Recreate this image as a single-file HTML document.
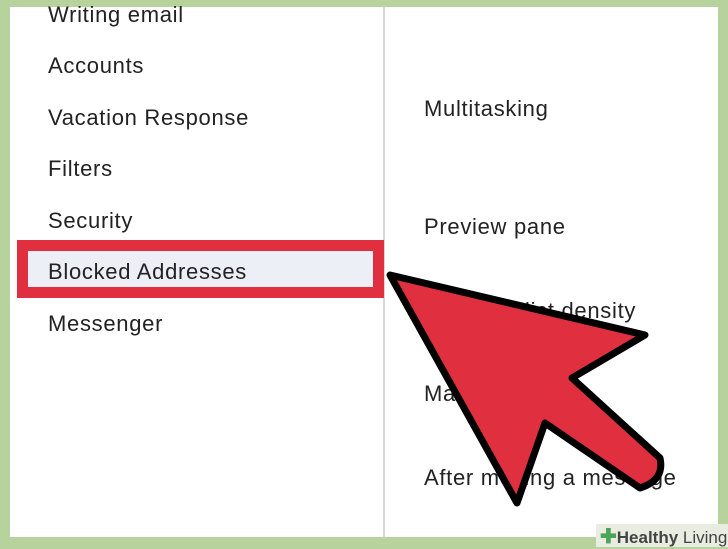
<!DOCTYPE html>
<html><head><style>
body{margin:0;width:728px;height:547px;background:#b7d29d;position:relative;overflow:hidden;font-family:"Liberation Sans",sans-serif;}
#panel{position:absolute;left:10px;top:7px;width:708px;height:530px;background:#fff;}
#div{position:absolute;left:383px;top:7px;width:2px;height:530px;background:#d6d8dc;}
.t{position:absolute;font-size:22px;color:#222;white-space:nowrap;line-height:1;letter-spacing:0.7px;}
#box{position:absolute;left:17px;top:240px;width:345px;height:36px;border:11px solid #e0303f;background:#eceff5;}
#logo{position:absolute;left:596px;top:524px;width:132px;height:23px;background:#e9ece0;font-size:17px;color:#444;}
</style></head><body>
<div id="panel"></div>
<div id="div"></div>
<div id="box"></div>
<div class="t" style="left:48px;top:4px">Writing email</div>
<div class="t" style="left:48px;top:55px">Accounts</div>
<div class="t" style="left:48px;top:107px">Vacation Response</div>
<div class="t" style="left:48px;top:158px">Filters</div>
<div class="t" style="left:48px;top:210px">Security</div>
<div class="t" style="left:48px;top:261px">Blocked Addresses</div>
<div class="t" style="left:48px;top:313px">Messenger</div>
<div class="t" style="left:424px;top:98px">Multitasking</div>
<div class="t" style="left:424px;top:216px">Preview pane</div>
<div class="t" style="left:424px;top:300px">Message list density</div>
<div class="t" style="left:424px;top:383px">Mark as read</div>
<div class="t" style="left:424px;top:467px">After moving a message</div>
<svg style="position:absolute;left:0;top:0" width="728" height="547">
<path d="M390,275 L645,335 L572,378 L660,458 Q665,480 640,488 L545,423 L517,503 Z" fill="#e0303f" stroke="#000" stroke-width="7" stroke-linejoin="round"/>
</svg>
<div id="logo"><span style="color:#4aa55a;font-weight:bold;font-size:20px;margin-left:4px">✚</span><b>Healthy</b> Living</div>
</body></html>
